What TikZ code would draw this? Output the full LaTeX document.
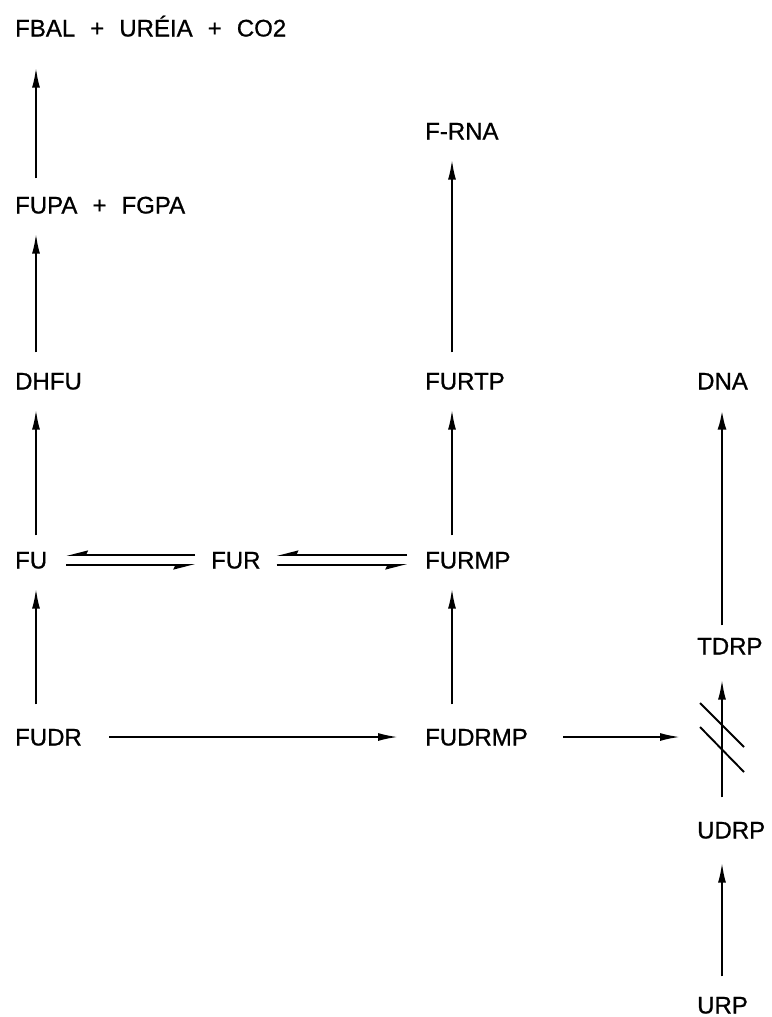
\documentclass[tikz,border=0pt]{standalone}
\usepackage{fontspec}
\setmainfont{Liberation Sans}[FakeBold=0.8]
\usetikzlibrary{arrows.meta,calc}
\newcommand\pgap{\hspace{0.35em}}
\begin{document}
\begin{tikzpicture}[x=1pt,y=-1pt,
  lbl/.style={anchor=west,inner sep=0pt,text height=17pt,text depth=0pt,font=\fontsize{24}{28}\selectfont},
  arr/.style={line width=1.9pt,-{Latex[length=20pt,width=8pt]}},
  thick arr/.style={line width=2.8pt,-{Latex[length=20pt,width=9pt]}},
  eqtop/.style={line width=1.8pt,-{Stealth[harpoon,swap,length=18pt,width=9pt,inset=2pt]}},
  hash/.style={line width=1.9pt}]
\useasboundingbox (0,0) rectangle (771,1017);
% nodes
\node[lbl] (fbal)   at (15,28)   {FBAL\pgap{} + \pgap{}URÉIA\pgap{} + \pgap{}CO2};
\node[lbl] (fupa)   at (15,205)  {FUPA\pgap{} + \pgap{}FGPA};
\node[lbl] (dhfu)   at (15,381)  {DHFU};
\node[lbl] (fu)     at (15,560)  {FU};
\node[lbl] (fudr)   at (15,737)  {FUDR};
\node[lbl] (frna)   at (425,131) {F-RNA};
\node[lbl] (furtp)  at (425,381) {FURTP};
\node[lbl] (fur)    at (211,560) {FUR};
\node[lbl] (furmp)  at (425,560) {FURMP};
\node[lbl] (fudrmp) at (425,737) {FUDRMP};
\node[lbl] (dna)    at (697,381) {DNA};
\node[lbl] (tdrp)   at (697,646) {TDRP};
\node[lbl] (udrp)   at (697,830) {UDRP};
\node[lbl] (urp)    at (697,1005){URP};
\coordinate (blk) at (680,737);
% left column
\draw[arr] ([xshift=21pt,yshift=18pt]fupa.north west) -- ([xshift=21pt,yshift=-31pt]fbal.south west);
\draw[arr] ([xshift=21pt,yshift=20pt]dhfu.north west) -- ([xshift=21pt,yshift=-20pt]fupa.south west);
\draw[arr] ([xshift=21pt,yshift=16pt]fu.north west) -- ([xshift=21pt,yshift=-20pt]dhfu.south west);
\draw[arr] ([xshift=21pt,yshift=24pt]fudr.north west) -- ([xshift=21pt,yshift=-20pt]fu.south west);
% middle column
\draw[arr] ([xshift=27pt,yshift=20pt]furtp.north west) -- ([xshift=27pt,yshift=-20pt]frna.south west);
\draw[arr] ([xshift=27pt,yshift=16pt]furmp.north west) -- ([xshift=27pt,yshift=-20pt]furtp.south west);
\draw[arr] ([xshift=27pt,yshift=24pt]fudrmp.north west) -- ([xshift=27pt,yshift=-20pt]furmp.south west);
% right column
\draw[thick arr] ([xshift=25pt,yshift=12pt]tdrp.north west) -- ([xshift=25pt,yshift=-20pt]dna.south west);
\draw[arr] ([xshift=25pt,yshift=24pt]udrp.north west) -- ([xshift=25pt,yshift=-25pt]tdrp.south west);
\draw[arr] ([xshift=25pt,yshift=20pt]urp.north west) -- ([xshift=25pt,yshift=-24pt]udrp.south west);
% blocked step marks
\draw[hash] (700,703) -- (744,747);
\draw[hash] (700,727) -- (744,772);
% horizontal arrows
\draw[arr] ([xshift=27pt]fudr.east) -- ([xshift=-27pt]fudrmp.west);
\draw[arr] ([xshift=35pt]fudrmp.east) -- (blk);
% equilibria
\draw[eqtop] ([xshift=-16pt,yshift=5pt]fur.west) -- ([xshift=19pt,yshift=5pt]fu.east);
\draw[eqtop] ([xshift=19pt,yshift=-5pt]fu.east) -- ([xshift=-16pt,yshift=-5pt]fur.west);
\draw[eqtop] ([xshift=-18pt,yshift=5pt]furmp.west) -- ([xshift=16pt,yshift=5pt]fur.east);
\draw[eqtop] ([xshift=16pt,yshift=-5pt]fur.east) -- ([xshift=-18pt,yshift=-5pt]furmp.west);
\end{tikzpicture}
\end{document}
